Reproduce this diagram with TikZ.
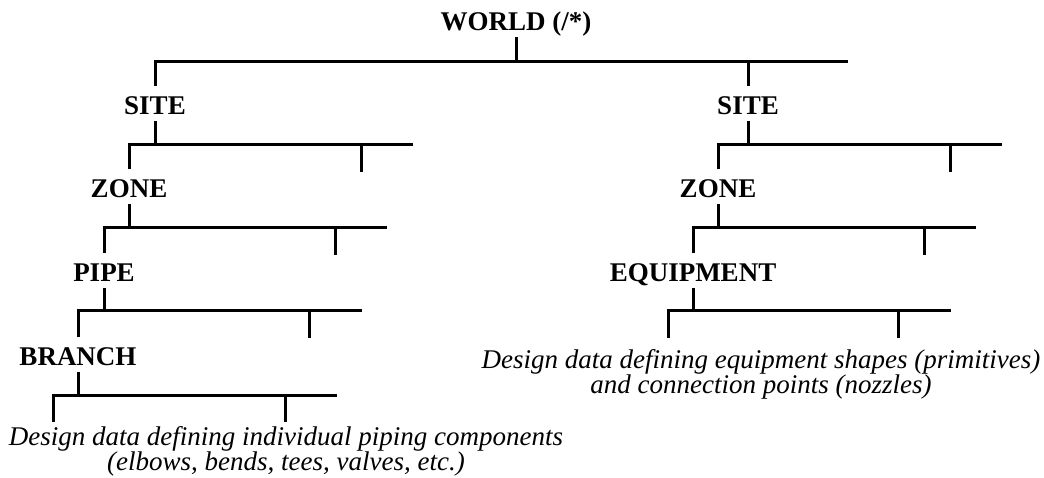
\documentclass[tikz,border=0pt]{standalone}
\usepackage{fontspec}
\setmainfont{Liberation Serif}
\usetikzlibrary{positioning}

\begin{document}
\begin{tikzpicture}[x=1pt, y=-1pt, line width=3pt,
    lvl/.style={font=\fontsize{27}{30}\selectfont\bfseries, anchor=base,
                inner xsep=0pt, inner ysep=5pt, text height=22pt, text depth=0pt},
    note/.style={font=\fontsize{27}{25}\selectfont\itshape, align=center,
                 inner sep=0pt, anchor=base}]
  \useasboundingbox (0,0) rectangle (1044,478);

  % hierarchy labels
  \node[lvl] (world)  at (516,31)  {WORLD (/*)};
  \node[lvl] (siteA)  at (155,115) {SITE};
  \node[lvl] (siteB)  at (748,115) {SITE};
  \node[lvl] (zoneA)  at (129,198) {ZONE};
  \node[lvl] (zoneB)  at (718,198) {ZONE};
  \node[lvl] (pipe)   at (104,282) {PIPE};
  \node[lvl] (equip)  at (693,282) {EQUIPMENT};
  \node[lvl] (branch) at (78,365)  {BRANCH};

  % buses: parent / y / left / stub / right
  \coordinate (world-r) at (848,62);
  \draw (world.south) -- (world.south |- world-r);
  \draw (siteA.north) |- (world-r);
  \draw (siteB.north) -- (siteB.north |- world-r);
  \foreach \p/\y/\l/\s/\r in {siteA/145/129/361/413, siteB/145/718/950/1002,
                               zoneA/228/104/335/387, zoneB/228/693/924/976,
                               pipe/311/78/309/362, equip/311/668/898/951,
                               branch/395/53/285/337}
    { \coordinate (\p-l) at (\l,\y);
      \coordinate (\p-r) at (\r,\y);
      \coordinate (\p-s) at (\s,\y);
      \coordinate (\p-sd) at (\s,\y+27);
      \coordinate (\p-ld) at (\l,\y+27);
      \draw (\p.south) -- (\p.south |- \p-l);
      \draw (\p-s) -- (\p-sd); }
  \draw (zoneA.north) |- (siteA-r);
  \draw (zoneB.north) |- (siteB-r);
  \draw (pipe.north) |- (zoneA-r);
  \draw (equip.north) |- (zoneB-r);
  \draw (branch.north) |- (pipe-r);
  \draw (equip-ld) |- (equip-r);
  \draw (branch-ld) |- (branch-r);

  % leaf notes (base = last line)
  \node[note] (pipenote)  at (286,470) {Design data defining individual piping components\\(elbows, bends, tees, valves, etc.)};
  \node[note] (equipnote) at (761,393) {Design data defining equipment shapes (primitives)\\and connection points (nozzles)};
\end{tikzpicture}
\end{document}
